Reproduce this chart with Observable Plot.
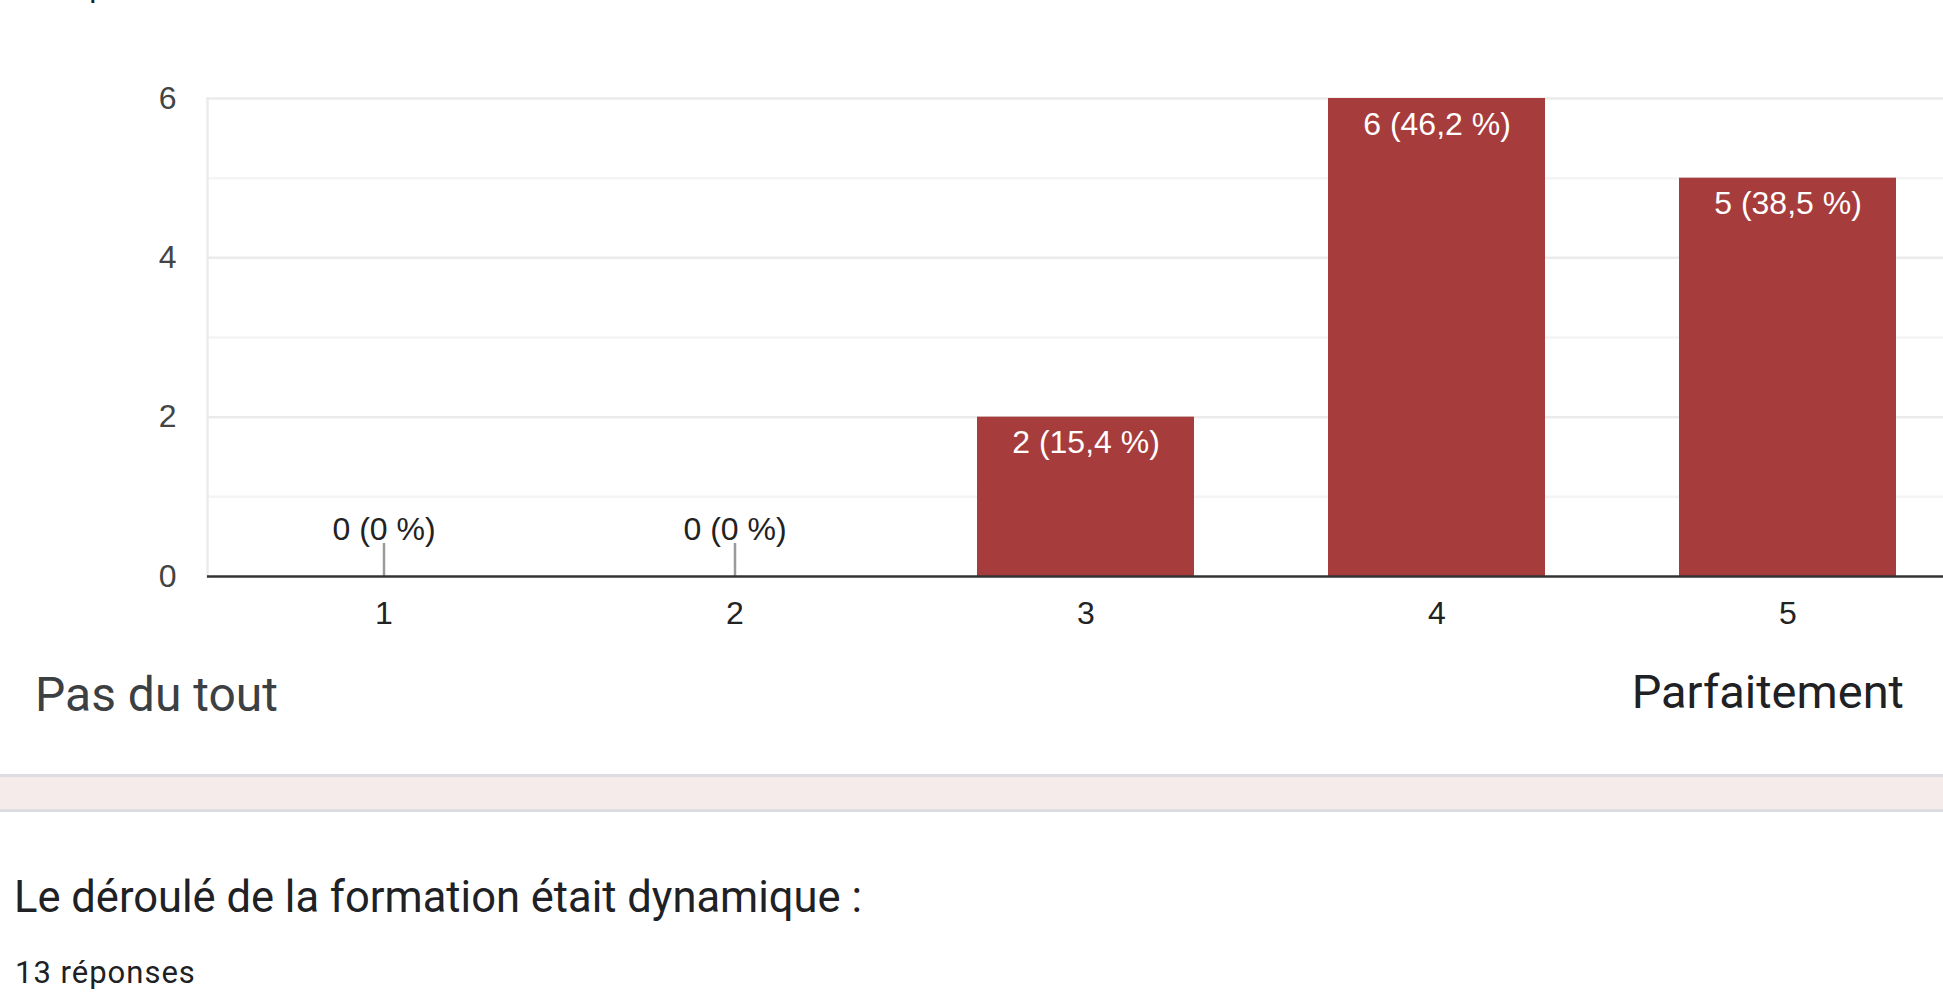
<!DOCTYPE html>
<html>
<head>
<meta charset="utf-8">
<script src="https://cdn.jsdelivr.net/npm/d3@7"></script>
<script src="https://cdn.jsdelivr.net/npm/@observablehq/plot@0.6"></script>
<style>
  html, body { margin: 0; padding: 0; background: #ffffff; }
  #page { position: relative; width: 1943px; height: 1002px; overflow: hidden; background: #ffffff; }
  #chart { position: absolute; left: 0; top: 0; }
  .txt { position: absolute; white-space: nowrap; font-family: Roboto, "Liberation Sans", Arial, sans-serif; line-height: 1; }
  #prevCount { left: 15px; top: -29px; font-size: 31px; letter-spacing: 1px; color: #202124; }
  #lowLabel { left: 35px; top: 671px; font-size: 48px; color: #3c4043; }
  #highLabel { right: 39px; top: 668px; font-size: 47px; color: #202124; text-align: right; }
  #band { position: absolute; left: 0; top: 774px; width: 1943px; height: 32px; background: #f6ebeb; border-top: 3px solid #dcdde1; border-bottom: 3px solid #dcdde1; }
  #nextTitle { left: 14px; top: 876px; font-size: 43.5px; color: #202124; }
  #nextCount { left: 15px; top: 957px; font-size: 31px; letter-spacing: 1px; color: #202124; }
</style>
</head>
<body>
<div id="page">
  <div class="txt" id="prevCount">13 réponses</div>
  <div id="chart"></div>
  <div class="txt" id="lowLabel">Pas du tout</div>
  <div class="txt" id="highLabel">Parfaitement</div>
  <div id="band"></div>
  <div class="txt" id="nextTitle">Le déroulé de la formation était dynamique :</div>
  <div class="txt" id="nextCount">13 réponses</div>
</div>
<script>
// ---- data ----
const categories = ["1", "2", "3", "4", "5"];
const counts = [0, 0, 2, 6, 5];
const valueLabels = ["0 (0 %)", "0 (0 %)", "2 (15,4 %)", "6 (46,2 %)", "5 (38,5 %)"];
const majorTicks = [0, 2, 4, 6];
const minorTicks = [1, 3, 5];

const rows = categories.map((c, i) => ({category: c, count: counts[i], label: valueLabels[i]}));
const nonZero = rows.filter(d => d.count > 0);
const zero = rows.filter(d => d.count === 0);

const barColor = "#a63c3c";
const chartFont = '"Liberation Sans", Arial, sans-serif';

const chart = Plot.plot({
  width: 1943,
  height: 640,
  marginLeft: 207,
  marginRight: 0,
  marginTop: 98,
  marginBottom: 64,
  style: {fontFamily: chartFont, fontSize: "32px", background: "transparent", overflow: "visible"},
  x: {type: "band", domain: categories, range: [208, 1963], paddingInner: 0.382, paddingOuter: 0.191, label: null},
  y: {domain: [0, 6], label: null},
  marks: [
    Plot.ruleY(minorTicks, {stroke: "#f4f4f4", strokeWidth: 2.5}),
    Plot.ruleY(majorTicks.filter(t => t > 0), {stroke: "#ebebeb", strokeWidth: 2.5}),
    Plot.frame({anchor: "left", stroke: "#ebebeb", strokeWidth: 2.5}),
    Plot.barY(rows, {x: "category", y: "count", fill: barColor}),
    Plot.ruleX(zero, {x: "category", y1: 0, y2: 0, insetTop: -33, stroke: "#9a9a9a", strokeWidth: 2.5}),
    Plot.ruleY([0], {stroke: "#333333", strokeWidth: 2.5}),
    Plot.text(nonZero, {x: "category", y: "count", text: "label", dy: 26, fill: "#ffffff", fontSize: 32}),
    Plot.text(zero, {x: "category", y: "count", text: "label", dy: -47, fill: "#222222", fontSize: 32}),
    Plot.axisY(majorTicks, {tickSize: 0, tickPadding: 31, fontSize: 32, color: "#444444", tickFormat: d => String(d)}),
    Plot.axisX({tickSize: 0, tickPadding: 25, fontSize: 32, color: "#222222"})
  ]
});
document.getElementById("chart").appendChild(chart);
</script>
</body>
</html>
